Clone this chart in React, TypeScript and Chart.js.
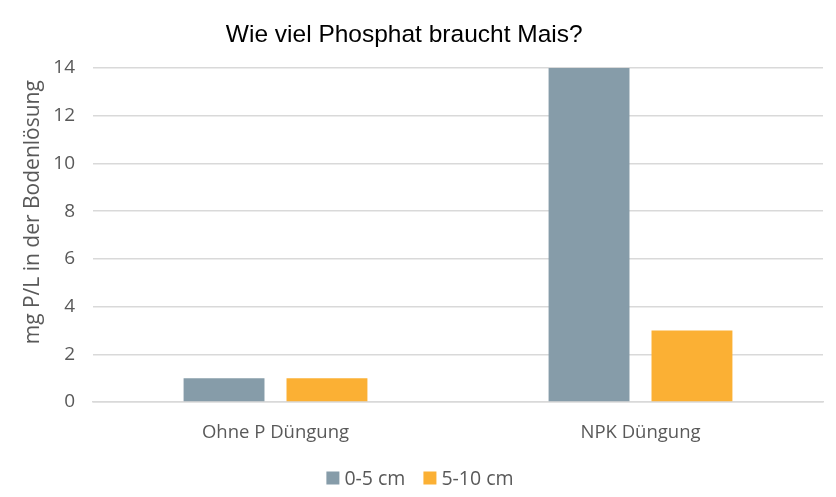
import React, { useEffect, useRef } from "react";
import { Chart, registerables } from "chart.js";

Chart.register(...registerables);

const categories = ["Ohne P Düngung", "NPK Düngung"];
const series1Label = "0-5 cm";
const series1 = [1, 14];
const series2Label = "5-10 cm";
const series2 = [1, 3];
const yTicks = [0, 2, 4, 6, 8, 10, 12, 14];
const titleText = "Wie viel Phosphat braucht Mais?";
const yTitle = "mg P/L in der Bodenlösung";

const textPlugin = {
  id: "customTexts",
  afterDraw(chart: any) {
    const ctx = chart.ctx;
    // chart title
    ctx.save();
    ctx.font = "24.5px 'Liberation Sans', Arial, sans-serif";
    ctx.fillStyle = "#000000";
    ctx.textAlign = "center";
    ctx.textBaseline = "middle";
    ctx.fillText(titleText, chart.width * 0.4835, 35);
    ctx.restore();

    // y axis title
    ctx.save();
    ctx.font = "21px 'Open Sans', sans-serif";
    ctx.fillStyle = "#595959";
    ctx.textAlign = "center";
    ctx.textBaseline = "middle";
    ctx.translate(33, chart.height * 0.427);
    ctx.rotate(-Math.PI / 2);
    ctx.fillText(yTitle, 0, 0);
    ctx.restore();

    // legend
    ctx.save();
    ctx.font = "19.5px 'Open Sans', sans-serif";
    ctx.textBaseline = "middle";
    ctx.textAlign = "left";
    const box = 13;
    const gapBoxText = 5;
    const gapItems = 18;
    const items = chart.data.datasets.map((d: any) => ({
      label: d.label,
      color: d.backgroundColor,
      w: ctx.measureText(d.label).width,
    }));
    const total =
      items.reduce((s: number, it: any) => s + box + gapBoxText + it.w, 0) +
      gapItems * (items.length - 1);
    let x = chart.width / 2 + 2 - total / 2;
    const y = 478;
    for (const it of items) {
      ctx.fillStyle = it.color;
      ctx.fillRect(x, y - box / 2, box, box);
      x += box + gapBoxText;
      ctx.fillStyle = "#595959";
      ctx.fillText(it.label, x, y + 1);
      x += it.w + gapItems;
    }
    ctx.restore();
  },
};

export default function App() {
  const ref = useRef<HTMLCanvasElement | null>(null);
  useEffect(() => {
    if (!ref.current) return;
    const font = "'Open Sans', sans-serif";
    const chart = new Chart(ref.current, {
      type: "bar",
      data: {
        labels: categories,
        datasets: [
          { label: series1Label, data: series1, backgroundColor: "#869CA9" },
          { label: series2Label, data: series2, backgroundColor: "#FBB034" },
        ],
      },
      options: {
        animation: false,
        responsive: false,
        maintainAspectRatio: false,
        layout: { padding: { top: 68, right: 13, left: 0, bottom: 50 } },
        datasets: {
          bar: { categoryPercentage: 0.564, barPercentage: 0.786 },
        },
        plugins: {
          title: { display: false },
          tooltip: { enabled: false },
          legend: { display: false },
        },
        scales: {
          x: {
            afterFit(axis: any) {
              axis.height = 45;
            },
            grid: { display: false },
            border: { color: "#d9d9d9", width: 1.5 },
            ticks: { color: "#595959", font: { family: font, size: 18.5 }, padding: 12 },
          },
          y: {
            min: 0,
            max: 14,
            afterFit(axis: any) {
              axis.width = 93;
            },
            afterBuildTicks(axis: any) {
              axis.ticks = yTicks.map((v) => ({ value: v }));
            },
            grid: { color: "#d9d9d9", lineWidth: 1.5, drawTicks: false },
            border: { display: false },
            ticks: { color: "#595959", font: { family: font, size: 19 }, padding: 18 },
            title: { display: false },
          },
        },
      },
      plugins: [textPlugin],
    });
    return () => chart.destroy();
  }, []);
  return (
    <div style={{ position: "fixed", left: 0, top: 0, width: 836, height: 497, background: "#fff" }}>
      <canvas ref={ref} width={836} height={497} style={{ width: 836, height: 497 }} />
    </div>
  );
}
